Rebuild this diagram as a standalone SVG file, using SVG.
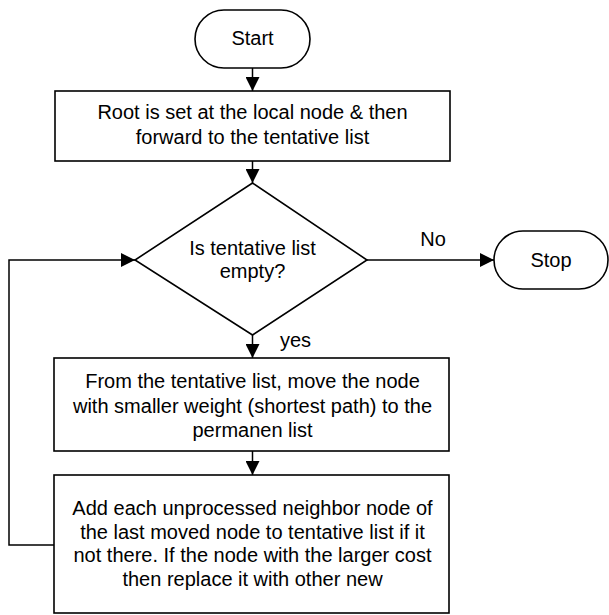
<svg xmlns="http://www.w3.org/2000/svg" width="609" height="615" viewBox="0 0 609 615">
  <style>
    .shape { fill: #ffffff; stroke: #000000; stroke-width: 1.6; }
    .conn { fill: none; stroke: #000000; stroke-width: 1.5; }
    text { font-family: "Liberation Sans", Arial, sans-serif; font-size: 20px; fill: #000000; }
    .c { text-anchor: middle; }
  </style>
  <defs>
    <marker id="arr" viewBox="0 0 14 14" refX="14" refY="7" markerWidth="14" markerHeight="14" markerUnits="userSpaceOnUse" orient="auto">
      <path d="M0,0 L14,7 L0,14 Z" fill="#000000"/>
    </marker>
  </defs>
  <rect width="609" height="615" fill="#ffffff"/>

  <g id="connectors">
    <line class="conn" x1="252.5" y1="68" x2="252.5" y2="91" marker-end="url(#arr)"/>
    <line class="conn" x1="252.5" y1="161" x2="252.5" y2="183" marker-end="url(#arr)"/>
    <line class="conn" x1="367" y1="260" x2="494" y2="260" marker-end="url(#arr)"/>
    <line class="conn" x1="252.5" y1="335" x2="252.5" y2="358" marker-end="url(#arr)"/>
    <line class="conn" x1="252.5" y1="451" x2="252.5" y2="475" marker-end="url(#arr)"/>
    <polyline class="conn" points="54,545 9,545 9,260 135,260" marker-end="url(#arr)"/>
    <text x="433" y="246" class="c">No</text>
    <text x="280" y="347">yes</text>
  </g>

  <g id="start">
    <rect class="shape" x="195" y="10" width="115" height="58" rx="29" ry="29"/>
    <text x="252.5" y="45" class="c">Start</text>
  </g>

  <g id="root">
    <rect class="shape" x="55" y="91" width="395" height="70"/>
    <text x="252.5" y="119" class="c">Root is set at the local node &amp; then</text>
    <text x="252.5" y="144" class="c">forward to the tentative list</text>
  </g>

  <g id="decision">
    <polygon class="shape" points="252.5,183 367,260 252.5,335 135,260"/>
    <text x="252.5" y="255" class="c">Is tentative list</text>
    <text x="252.5" y="278" class="c">empty?</text>
  </g>

  <g id="stop">
    <rect class="shape" x="494" y="231" width="114" height="58" rx="29" ry="29"/>
    <text x="551" y="267" class="c">Stop</text>
  </g>

  <g id="move">
    <rect class="shape" x="54" y="358" width="395" height="93"/>
    <text x="252.5" y="388" class="c">From the tentative list, move the node</text>
    <text x="252.5" y="412.5" class="c">with smaller weight (shortest path) to the</text>
    <text x="252.5" y="437" class="c">permanen list</text>
  </g>

  <g id="add">
    <rect class="shape" x="54" y="475" width="395" height="138"/>
    <text x="252.5" y="515" class="c">Add each unprocessed neighbor node of</text>
    <text x="252.5" y="538.5" class="c">the last moved node to tentative list if it</text>
    <text x="252.5" y="562" class="c">not there. If the node with the larger cost</text>
    <text x="252.5" y="585.5" class="c">then replace it with other new</text>
  </g>
</svg>
